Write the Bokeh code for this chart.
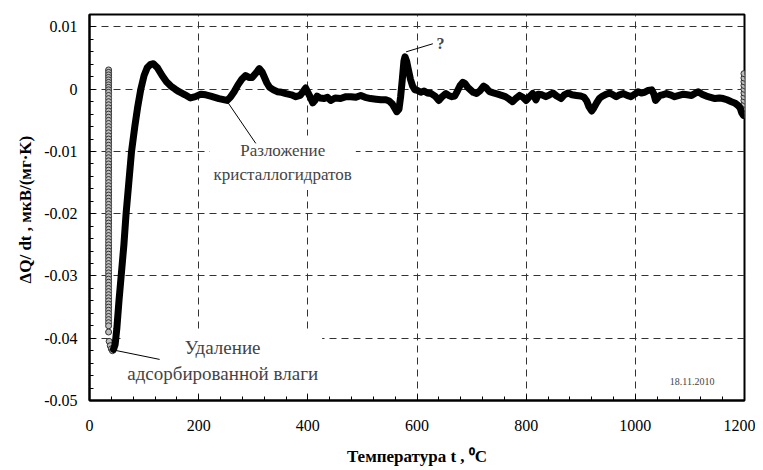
from bokeh.plotting import figure
from bokeh.models import Range1d, FixedTicker, Label
from bokeh.embed import file_html
from bokeh.resources import INLINE

# ---- data ----
curve_t = [44, 47, 50, 54, 58, 63, 67, 72, 77, 83, 88, 94, 100, 106, 112, 117, 124, 133, 141, 149,
           157, 164, 175, 185, 194, 204, 213, 222, 237, 252, 258, 265, 272, 279, 286, 292, 298, 305, 311, 316,
           320, 325, 330, 337, 344, 352, 360, 370, 378, 386, 392, 396, 400, 404, 409, 413, 417, 422, 430, 436,
           442, 450, 460, 470, 479, 488, 497, 505, 515, 525, 534, 543, 549, 555, 559, 563, 567, 570, 573, 576,
           578, 581, 584, 588, 592, 596, 601, 607, 613, 619, 626, 633, 640, 646, 653, 658, 664, 669, 674, 679,
           684, 688, 693, 698, 703, 709, 716, 722, 727, 733, 740, 748, 755, 762, 769, 775, 781, 788, 794, 800,
           806, 812, 818, 822, 829, 836, 843, 849, 856, 864, 870, 877, 884, 892, 900, 906, 911, 915, 920, 924,
           929, 934, 940, 947, 953, 959, 965, 971, 978, 985, 992, 999, 1005, 1011, 1017, 1023, 1030, 1034, 1037, 1041,
           1045, 1051, 1057, 1064, 1072, 1080, 1088, 1095, 1103, 1109, 1115, 1122, 1130, 1138, 1146, 1154, 1161, 1168, 1176, 1182,
           1188, 1192, 1195, 1198]
curve_v = [-0.0418, -0.0410, -0.0385, -0.0340, -0.0300, -0.0250, -0.0200, -0.0150, -0.0100, -0.0060,
           -0.0030, 0.0000, 0.0022, 0.0035, 0.0040, 0.0041, 0.0035, 0.0022, 0.0012, 0.0005,
           0.0000, -0.0004, -0.0009, -0.0014, -0.0012, -0.0008, -0.0009, -0.0011, -0.0015, -0.0018,
           -0.0013, -0.0004, 0.0007, 0.0016, 0.0022, 0.0019, 0.0019, 0.0026, 0.0033, 0.0028,
           0.0020, 0.0010, 0.0003, -0.0001, -0.0004, -0.0005, -0.0007, -0.0009, -0.0012, -0.0010,
           -0.0003, 0.0002, -0.0005, -0.0012, -0.0022, -0.0018, -0.0011, -0.0014, -0.0015, -0.0013,
           -0.0018, -0.0014, -0.0015, -0.0012, -0.0012, -0.0013, -0.0010, -0.0013, -0.0015, -0.0016,
           -0.0017, -0.0017, -0.0019, -0.0024, -0.0030, -0.0036, -0.0032, -0.0012, 0.0015, 0.0045,
           0.0052, 0.0045, 0.0032, 0.0016, 0.0005, -0.0001, -0.0002, -0.0005, -0.0003, -0.0006,
           -0.0007, -0.0011, -0.0018, -0.0012, -0.0007, -0.0010, -0.0012, -0.0011, -0.0003, 0.0006,
           0.0011, 0.0009, 0.0003, -0.0001, -0.0005, -0.0007, -0.0002, 0.0005, 0.0002, -0.0004,
           -0.0006, -0.0008, -0.0010, -0.0012, -0.0016, -0.0020, -0.0015, -0.0010, -0.0013, -0.0018,
           -0.0012, -0.0007, -0.0017, -0.0008, -0.0009, -0.0012, -0.0009, -0.0006, -0.0011, -0.0015,
           -0.0009, -0.0006, -0.0009, -0.0010, -0.0011, -0.0013, -0.0019, -0.0028, -0.0035, -0.0030,
           -0.0022, -0.0015, -0.0011, -0.0008, -0.0006, -0.0009, -0.0012, -0.0009, -0.0007, -0.0010,
           -0.0012, -0.0008, -0.0004, -0.0006, -0.0005, -0.0002, -0.0001, -0.0008, -0.0018, -0.0014,
           -0.0010, -0.0009, -0.0007, -0.0009, -0.0012, -0.0010, -0.0008, -0.0009, -0.0010, -0.0007,
           -0.0004, -0.0008, -0.0011, -0.0013, -0.0015, -0.0014, -0.0015, -0.0017, -0.0020, -0.0022,
           -0.0026, -0.0030, -0.0038, -0.0042]

# isothermal start: stacked points near 35 C
start_t = [35] * 86 + [36, 38, 40, 42]
start_v = [0.0031, 0.0027, 0.0023, 0.0019, 0.0015, 0.0011, 0.0007, 0.0003, -0.0001, -0.0005,
           -0.0010, -0.0015, -0.0020, -0.0025, -0.0030, -0.0035, -0.0040, -0.0045, -0.0050, -0.0055,
           -0.0060, -0.0065, -0.0070, -0.0075, -0.0080, -0.0085, -0.0090, -0.0095, -0.0100, -0.0105,
           -0.0110, -0.0115, -0.0120, -0.0125, -0.0130, -0.0135, -0.0140, -0.0145, -0.0150, -0.0155,
           -0.0160, -0.0165, -0.0170, -0.0175, -0.0180, -0.0185, -0.0190, -0.0195, -0.0200, -0.0205,
           -0.0210, -0.0215, -0.0220, -0.0225, -0.0230, -0.0235, -0.0240, -0.0245, -0.0250, -0.0255,
           -0.0260, -0.0265, -0.0270, -0.0275, -0.0280, -0.0285, -0.0290, -0.0295, -0.0300, -0.0305,
           -0.0310, -0.0315, -0.0320, -0.0325, -0.0330, -0.0335, -0.0340, -0.0345, -0.0350, -0.0355,
           -0.0360, -0.0365, -0.0370, -0.0375, -0.0380, -0.0390,
           -0.0405, -0.0412, -0.0417, -0.0420]
# isothermal end near 1200 C
end_t = [1199] * 12
end_v = [-0.0042, -0.0036, -0.0030, -0.0024, -0.0018, -0.0012, -0.0006, 0.0000, 0.0006, 0.0012, 0.0018, 0.0025]

x_ticks = [0, 200, 400, 600, 800, 1000, 1200]
y_ticks = [-0.05, -0.04, -0.03, -0.02, -0.01, 0.0, 0.01]
y_tick_labels = ["-0.05", "-0.04", "-0.03", "-0.02", "-0.01", "0", "0.01"]

x_label = "Температура t , \u2070C"
y_label = "\u0394Q/ dt ,  мкВ/(мг\u00b7K)"

ann_water = "Удаление\nадсорбированной влаги"
ann_water_pos = (244, -0.0436)
ann_water_leader = ([44.6, 128.5], [-0.0419, -0.0434])
ann_cryst = "Разложение\nкристаллогидратов"
ann_cryst_pos = (354, -0.0118)
ann_cryst_leader = ([252.5, 304.6], [-0.0020, -0.0087])
ann_q = "?"
ann_q_pos = (643, 0.0073)
ann_q_leader = ([580, 629], [0.0060, 0.0073])
date_text = "18.11.2010"
date_pos = (1104, -0.0470)

SERIF = "'Liberation Serif', 'Times New Roman', serif"

p = figure(width=755, height=470, output_backend="svg", toolbar_location=None,
           x_range=Range1d(0, 1200), y_range=Range1d(-0.05, 0.012),
           min_border_left=89, min_border_right=11, min_border_top=14, min_border_bottom=70)

p.xaxis.ticker = FixedTicker(ticks=x_ticks, minor_ticks=[i * 40 for i in range(31)])
p.yaxis.ticker = FixedTicker(ticks=y_ticks, minor_ticks=[round(-0.05 + i * 0.002, 3) for i in range(32)])
p.yaxis.major_label_overrides = {t: s for t, s in zip(y_ticks, y_tick_labels)}

for ax in (p.xaxis, p.yaxis):
    ax.axis_line_width = 2
    ax.axis_line_color = "black"
    ax.major_tick_in = 6
    ax.major_tick_out = 0
    ax.minor_tick_in = 4
    ax.minor_tick_out = 0
    ax.major_tick_line_color = "black"
    ax.minor_tick_line_color = "black"
    ax.major_label_text_font = SERIF
    ax.major_label_text_font_size = "16px"
    ax.major_label_text_color = "black"
    ax.axis_label_text_font = SERIF
    ax.axis_label_text_font_style = "bold"
    ax.axis_label_text_color = "black"

p.xaxis.axis_label = x_label
p.yaxis.axis_label = y_label
p.xaxis.axis_label_text_font_size = "17px"
p.yaxis.axis_label_text_font_size = "17px"
p.xaxis.major_label_standoff = 19
p.yaxis.major_label_standoff = 12
p.xaxis.axis_label_standoff = 13
p.yaxis.axis_label_standoff = 6

p.grid.grid_line_color = "#333333"
p.grid.grid_line_dash = "7 5"
p.grid.grid_line_width = 1

p.outline_line_color = "black"
p.outline_line_width = 2
p.outline_line_alpha = 1

# annotation boxes (white background hides grid)
lab_cryst = Label(x=ann_cryst_pos[0], y=ann_cryst_pos[1], text=ann_cryst, text_align="center",
                  text_baseline="middle", text_font=SERIF, text_font_size="17px", text_line_height=1.24,
                  background_fill_color="white", padding=(4, 6), level="underlay")
lab_water = Label(x=ann_water_pos[0], y=ann_water_pos[1], text=ann_water, text_align="center",
                  text_baseline="middle", text_font=SERIF, text_font_size="19px", text_line_height=1.26,
                  background_fill_color="white", padding=(4, 6), level="underlay")
lab_date = Label(x=date_pos[0], y=date_pos[1], text=date_text, text_align="center",
                 text_baseline="middle", text_font=SERIF, text_font_size="10px",
                 background_fill_color="white", padding=2, level="underlay")
lab_q = Label(x=ann_q_pos[0], y=ann_q_pos[1], text=ann_q, text_align="center",
              text_baseline="middle", text_font=SERIF, text_font_size="16px", text_font_style="bold")
for lab in (lab_cryst, lab_water, lab_date, lab_q):
    p.add_layout(lab)

for lx, ly in (ann_water_leader, ann_cryst_leader, ann_q_leader):
    p.line(lx, ly, line_color="black", line_width=1)

p.scatter(start_t, start_v, size=6, fill_color="#bdbdbd", line_color="#303030", line_width=1)
p.scatter(end_t, end_v, size=6, fill_color="#bdbdbd", line_color="#303030", line_width=1)
p.line(curve_t, curve_v, line_width=7, line_color="black", line_join="round", line_cap="round")

open("out.html", "w").write(file_html(p, INLINE))
